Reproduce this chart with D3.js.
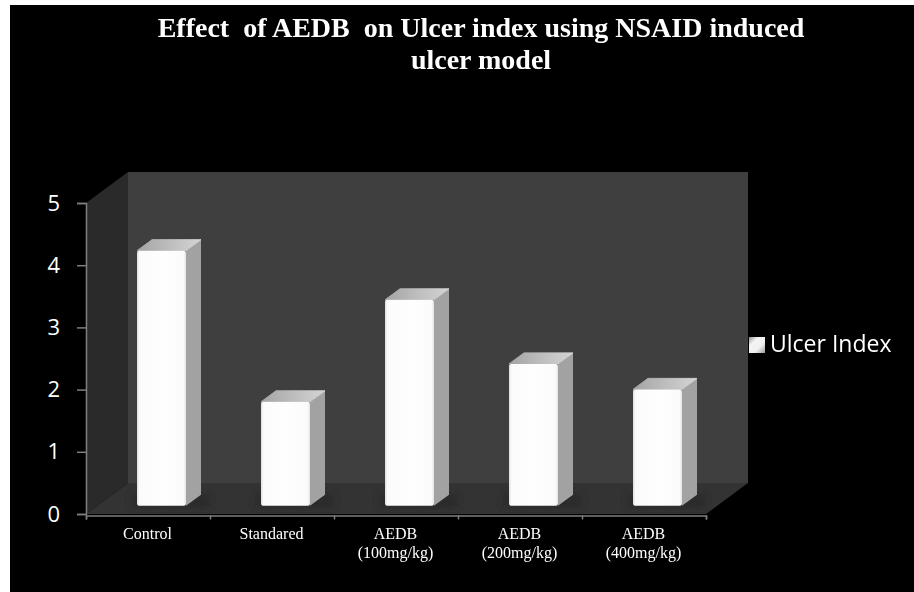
<!DOCTYPE html>
<html>
<head>
<meta charset="utf-8">
<script src="https://cdn.jsdelivr.net/npm/d3@7"></script>
<style>
  html, body { margin: 0; padding: 0; background: #fff; }
  svg { display: block; }
</style>
</head>
<body>
<div id="chart"></div>
<script>
const categories = ['Control', 'Standared', 'AEDB (100mg/kg)', 'AEDB (200mg/kg)', 'AEDB (400mg/kg)'];
const categoryLines = [['Control'], ['Standared'], ['AEDB', '(100mg/kg)'], ['AEDB', '(200mg/kg)'], ['AEDB', '(400mg/kg)']];
const ulcerIndex = [4.1, 1.67, 3.31, 2.28, 1.87];
const yTicks = [0, 1, 2, 3, 4, 5];
const titleLines = ['Effect  of AEDB  on Ulcer index using NSAID induced', 'ulcer model'];
const seriesName = 'Ulcer Index';

const width = 914;
const height = 592;
// plot box of the front plane, depth is the offset to the back wall
const plotLeft = 86, plotRight = 706, plotTop = 203, plotBottom = 514;
const depthX = 42, depthY = 31;
// bars stand a little inside the floor
const barShiftX = 51, barShiftY = 8.3, barW = 49, sideX = 15, sideY = 11;

const svg = d3.select('#chart').append('svg')
  .attr('width', width)
  .attr('height', height);

const defs = svg.append('defs');

const front = defs.append('linearGradient').attr('id', 'barFront');
[[0, '#dedede'], [0.05, '#fbfbfb'], [0.5, '#fefefe'], [0.95, '#fbfbfb'], [1, '#e2e2e2']].forEach(s => {
  front.append('stop').attr('offset', s[0]).attr('stop-color', s[1]);
});
const topFace = defs.append('linearGradient').attr('id', 'barTop')
  .attr('x1', 0).attr('x2', 1).attr('y1', 0).attr('y2', 0);
[[0, '#a4a4a4'], [0.5, '#bdbdbd'], [1, '#d4d4d4']].forEach(s => {
  topFace.append('stop').attr('offset', s[0]).attr('stop-color', s[1]);
});
const swatch = defs.append('linearGradient').attr('id', 'swatch')
  .attr('x1', 0).attr('x2', 1).attr('y1', 0).attr('y2', 1);
[[0, '#8f8f8f'], [0.3, '#f4f4f4'], [0.65, '#f0f0f0'], [1, '#9a9a9a']].forEach(s => {
  swatch.append('stop').attr('offset', s[0]).attr('stop-color', s[1]);
});
defs.append('filter').attr('id', 'soft')
  .append('feGaussianBlur').attr('stdDeviation', 0.7);
defs.append('filter').attr('id', 'shadow')
  .attr('x', '-30%').attr('y', '-100%').attr('width', '160%').attr('height', '300%')
  .append('feGaussianBlur').attr('stdDeviation', 3);

const y = d3.scaleLinear().domain([0, 5]).range([plotBottom, plotTop]);
const x = d3.scaleBand().domain(categories).range([plotLeft, plotRight]);
const xEdge = d3.scaleLinear().domain([0, categories.length]).range([plotLeft, plotRight]);

svg.append('rect')
  .attr('x', 10).attr('y', 5)
  .attr('width', width - 10).attr('height', height - 5)
  .attr('fill', '#000');

// walls and floor
const line = d3.line();
svg.append('path')
  .attr('d', line([[plotLeft, plotTop], [plotLeft + depthX, plotTop - depthY], [plotLeft + depthX, plotBottom - depthY], [plotLeft, plotBottom]]) + 'Z')
  .attr('fill', '#2a2a2a');
svg.append('rect')
  .attr('x', plotLeft + depthX).attr('y', plotTop - depthY)
  .attr('width', plotRight - plotLeft).attr('height', plotBottom - plotTop)
  .attr('fill', '#3f3f3f');
svg.append('path')
  .attr('d', line([[plotLeft, plotBottom], [plotLeft + depthX, plotBottom - depthY], [plotRight + depthX, plotBottom - depthY], [plotRight, plotBottom]]) + 'Z')
  .attr('fill', '#333333');

// shadows on the floor
svg.append('g').selectAll('rect')
  .data(categories)
  .join('rect')
  .attr('x', d => x(d) + barShiftX - 6)
  .attr('y', plotBottom - barShiftY - 12)
  .attr('width', barW + 30)
  .attr('height', 14)
  .attr('fill', '#2b2b2b')
  .attr('filter', 'url(#shadow)');

// bars
const bars = svg.append('g').attr('filter', 'url(#soft)').selectAll('g')
  .data(categories.map((c, i) => ({ c, v: ulcerIndex[i] })))
  .join('g')
  .attr('transform', d => `translate(${x(d.c) + barShiftX},${-barShiftY})`);

bars.append('path')
  .attr('d', d => line([[barW, y(d.v)], [barW + sideX, y(d.v) - sideY], [barW + sideX, plotBottom - sideY], [barW, plotBottom]]) + 'Z')
  .attr('fill', '#a2a2a2');
bars.append('path')
  .attr('d', d => line([[0, y(d.v)], [sideX, y(d.v) - sideY], [barW + sideX, y(d.v) - sideY], [barW, y(d.v)]]) + 'Z')
  .attr('fill', 'url(#barTop)')
  .attr('stroke', 'url(#barTop)')
  .attr('stroke-linejoin', 'round');
bars.append('rect')
  .attr('x', 0)
  .attr('y', d => y(d.v))
  .attr('width', barW)
  .attr('height', d => plotBottom - y(d.v))
  .attr('rx', 2)
  .attr('fill', 'url(#barFront)');

// axes
const yAxis = svg.append('g')
  .attr('transform', `translate(${plotLeft},0)`)
  .call(d3.axisLeft(y).tickValues(yTicks).tickFormat(d3.format('d')).tickSize(9).tickPadding(17));
yAxis.selectAll('path, line').attr('stroke', '#7f7f7f').attr('stroke-width', 1.5);
yAxis.selectAll('text')
  .attr('fill', '#fff')
  .style('font-family', '"Open Sans", sans-serif')
  .style('font-size', '22px');

const xAxis = svg.append('g')
  .attr('transform', `translate(0,${plotBottom + 1.5})`)
  .call(d3.axisBottom(xEdge).ticks(categories.length).tickFormat('').tickSize(4));
xAxis.selectAll('path, line').attr('stroke', '#7f7f7f').attr('stroke-width', 1.5);

// category labels
const labels = svg.append('g').selectAll('text')
  .data(categories)
  .join('text')
  .attr('text-anchor', 'middle')
  .attr('fill', '#fff')
  .style('font-family', '"Liberation Serif", serif')
  .style('font-size', '16px');
labels.each(function(d, i) {
  categoryLines[i].forEach((t, j) => {
    d3.select(this).append('tspan')
      .attr('x', x(d) + x.bandwidth() / 2 - 0.5)
      .attr('y', 538.5 + j * 19.5)
      .text(t);
  });
});

// title
svg.append('g').selectAll('text')
  .data(titleLines)
  .join('text')
  .attr('x', 481)
  .attr('y', (d, i) => 37 + i * 31.5)
  .attr('text-anchor', 'middle')
  .attr('fill', '#fff')
  .attr('xml:space', 'preserve')
  .style('white-space', 'pre')
  .style('font-family', '"Liberation Serif", serif')
  .style('font-weight', 'bold')
  .style('font-size', '28px')
  .text(d => d);

// legend
svg.append('rect')
  .attr('x', 749).attr('y', 337)
  .attr('width', 16).attr('height', 16)
  .attr('fill', 'url(#swatch)');
svg.append('text')
  .attr('x', 770).attr('y', 352)
  .attr('fill', '#fff')
  .style('font-family', '"Open Sans", sans-serif')
  .style('font-size', '23px')
  .text(seriesName);
</script>
</body>
</html>
